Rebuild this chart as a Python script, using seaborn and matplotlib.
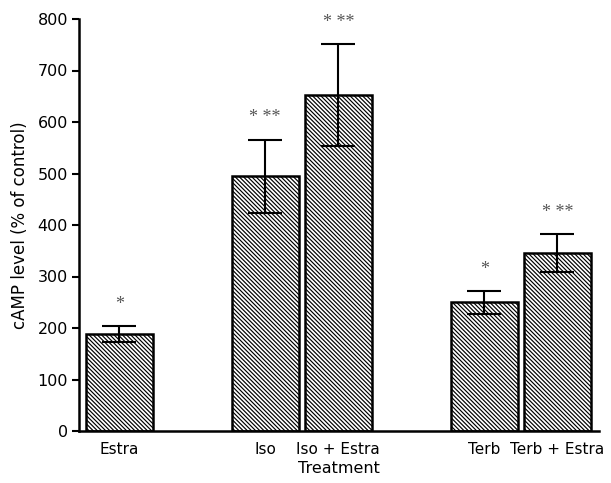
import matplotlib
matplotlib.use("Agg")
import matplotlib.pyplot as plt
import seaborn as sns
import numpy as np
import pandas as pd

categories = ["Estra", "Iso", "Iso + Estra", "Terb", "Terb + Estra"]
slots = [0, 2, 3, 5, 6]
values = [188, 495, 652, 250, 346]
errors = [15, 71, 99, 22, 37]
stars = ["*", "* **", "* **", "*", "* **"]
yticks = [0, 100, 200, 300, 400, 500, 600, 700, 800]

sns.set_theme(style="ticks")
plt.rcParams["font.family"] = ["DejaVu Sans"]
plt.rcParams["hatch.linewidth"] = 0.85
plt.rcParams["hatch.color"] = "black"

df = pd.DataFrame({"slot": slots, "value": values, "cat": categories})

fig = plt.figure(figsize=(6.11, 4.83), dpi=100)
ax = fig.add_axes([79/611, 1-431/483, (599-79)/611, (431-19)/483])

sns.barplot(data=df, x="slot", y="value", native_scale=True, width=0.92,
            color="white", edgecolor="black", linewidth=1.8, ax=ax, errorbar=None,
            zorder=2)
for p in ax.patches:
    p.set_hatch("\\" * 8)
    p.set_facecolor("white")
    p.set_edgecolor("black")

ax.errorbar(slots, values, yerr=errors, fmt="none", ecolor="black",
            elinewidth=1.5, capsize=12, capthick=1.5, zorder=3)

for s, v, e, t in zip(slots, values, errors, stars):
    ax.text(s, v + e + 42, t, ha="center", va="center", color="#555555",
            fontsize=13, family=["Liberation Serif", "DejaVu Serif"])

ax.set_xlim(-0.55, 6.57)
ax.set_ylim(0, 800)
ax.set_yticks(yticks)
ax.set_xticks(slots)
ax.set_xticklabels(categories, fontsize=11, color="black")
ax.tick_params(axis="x", length=0, pad=8)
ax.tick_params(axis="y", length=5, width=1.5, labelsize=11.5, colors="black", pad=3)
ax.set_ylabel("cAMP level (% of control)", fontsize=12, color="black", labelpad=6)
ax.set_xlabel("Treatment", fontsize=11.5, color="black", labelpad=3)
for sp in ["top", "right"]:
    ax.spines[sp].set_visible(False)
for sp in ["left", "bottom"]:
    ax.spines[sp].set_linewidth(1.8)
    ax.spines[sp].set_color("black")

fig.savefig("out.png", dpi=100)
